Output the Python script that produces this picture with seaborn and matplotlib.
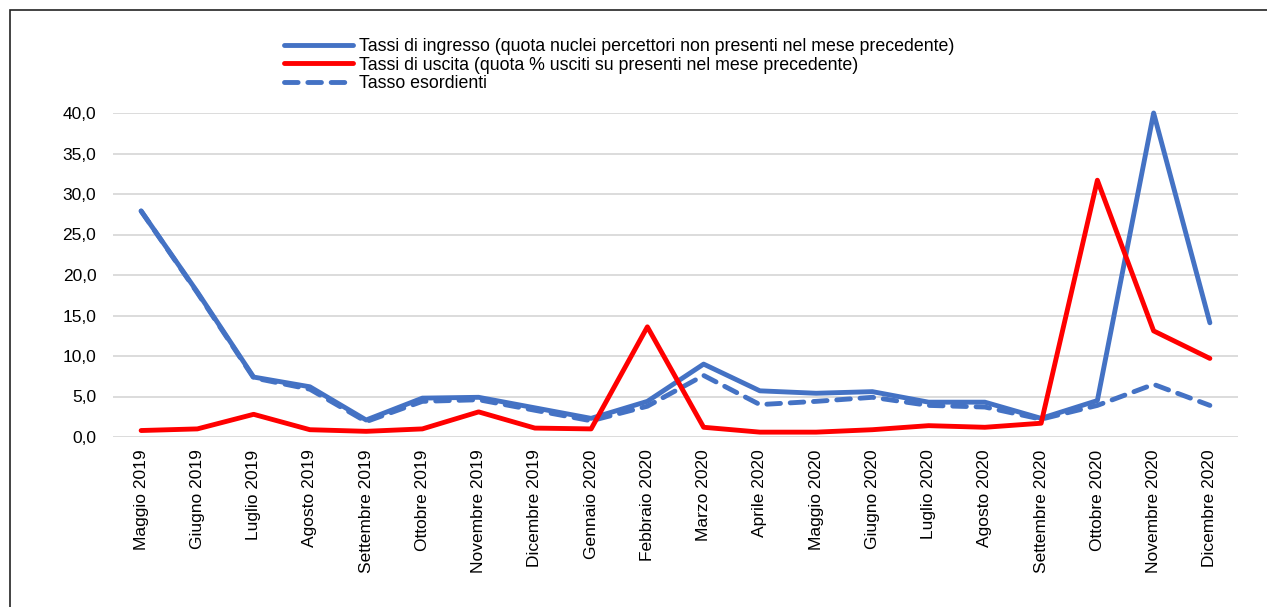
import matplotlib
matplotlib.use("Agg")
import matplotlib.pyplot as plt
import seaborn as sns
import pandas as pd
from matplotlib.patches import Rectangle
from matplotlib.ticker import FuncFormatter

months = ["Maggio 2019", "Giugno 2019", "Luglio 2019", "Agosto 2019", "Settembre 2019",
          "Ottobre 2019", "Novembre 2019", "Dicembre 2019", "Gennaio 2020", "Febbraio 2020",
          "Marzo 2020", "Aprile 2020", "Maggio 2020", "Giugno 2020", "Luglio 2020",
          "Agosto 2020", "Settembre 2020", "Ottobre 2020", "Novembre 2020", "Dicembre 2020"]

tassi_ingresso = [27.9, 17.9, 7.4, 6.2, 2.1, 4.8, 4.9, 3.6, 2.3, 4.4,
                  9.0, 5.7, 5.4, 5.6, 4.3, 4.3, 2.3, 4.5, 40.0, 14.1]
tassi_uscita = [0.8, 1.0, 2.8, 0.9, 0.7, 1.0, 3.1, 1.1, 1.0, 13.6,
                1.2, 0.6, 0.6, 0.9, 1.4, 1.2, 1.7, 31.7, 13.1, 9.7]
tasso_esordienti = [27.9, 17.8, 7.3, 5.9, 1.9, 4.4, 4.6, 3.3, 2.0, 3.8,
                    7.6, 4.0, 4.4, 4.9, 3.9, 3.7, 2.2, 3.9, 6.5, 3.9]

labels = ["Tassi di ingresso (quota nuclei percettori non presenti nel mese precedente)",
          "Tassi di uscita (quota % usciti su presenti nel mese precedente)",
          "Tasso esordienti"]
yticks = [0, 5, 10, 15, 20, 25, 30, 35, 40]

sns.set_theme(style="white")
plt.rcParams['font.family'] = ['Liberation Sans', 'DejaVu Sans']

W, H = 1267, 607
fig = plt.figure(figsize=(W / 100, H / 100), dpi=100)
ax = fig.add_axes([113 / W, 1 - 437 / H, (1238 - 113) / W, (437 - 113) / H])

blue = "#4472C4"
red = "#FF0000"
LW = 3.5

sns.lineplot(x=months, y=tassi_ingresso, sort=False, ax=ax, color=blue, lw=LW,
             label=labels[0], solid_capstyle="round", solid_joinstyle="round", clip_on=False, zorder=3)
sns.lineplot(x=months, y=tassi_uscita, sort=False, ax=ax, color=red, lw=LW,
             label=labels[1], solid_capstyle="round", solid_joinstyle="round", clip_on=False, zorder=4)
sns.lineplot(x=months, y=tasso_esordienti, sort=False, ax=ax, color=blue, lw=LW,
             label=labels[2], dash_capstyle="round", clip_on=False, zorder=2)
ax.lines[2].set_dashes([2.8, 2.0])

ax.set_xlim(-0.5, len(months) - 0.5)
ax.set_ylim(0, 40)
ax.set_yticks(yticks)
ax.yaxis.set_major_formatter(FuncFormatter(lambda v, p: f"{v:.1f}".replace(".", ",")))
ax.grid(axis="y", color="#D9D9D9", lw=1.3)
ax.grid(axis="x", visible=False)
for s in ax.spines.values():
    s.set_visible(False)
ax.tick_params(axis="x", labelrotation=90, labelsize=12.5, pad=9, length=0, colors="black")
ax.tick_params(axis="y", labelsize=12.5, pad=12, length=0, colors="black")
ax.set_xlabel("")
ax.set_ylabel("")

leg = ax.legend(loc="upper left", bbox_to_anchor=(275 / W, 1 - 29 / H),
                bbox_transform=fig.transFigure, frameon=False, fontsize=12.8,
                handlelength=3.9, handletextpad=0.3, labelspacing=0.1, borderpad=0)
for t in leg.get_texts():
    t.set_color("black")

fig.patches.append(Rectangle((10 / W, -0.1), 1.2, 1 - 10 / H + 0.1, transform=fig.transFigure,
                             fill=False, edgecolor="#222222", lw=1.2, figure=fig))

fig.savefig("out.png", dpi=100, facecolor="white")
